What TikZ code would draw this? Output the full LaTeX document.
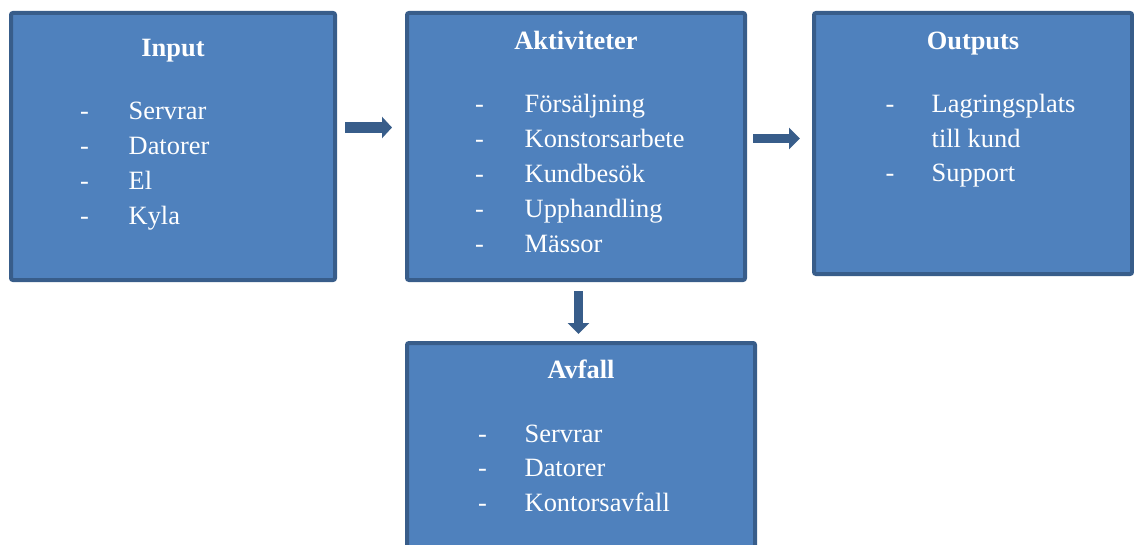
\documentclass[tikz,border=0pt]{standalone}
\usepackage{fontspec}
\setmainfont{Liberation Serif}
\usetikzlibrary{arrows.meta}
\definecolor{boxfill}{HTML}{4F81BD}
\definecolor{boxline}{HTML}{385D8A}
\tikzset{
  box/.style={draw=boxline, fill=boxfill, line width=4pt, rounded corners=2pt, inner sep=0pt},
  ttl/.style={text=white, font=\fontsize{26.4}{32}\selectfont\bfseries, inner sep=0pt, anchor=base},
  itm/.style={text=white, font=\fontsize{26.4}{32}\selectfont, inner sep=0pt, anchor=base west},
  blockarrow/.style={draw=boxline, line width=#1},
}
\begin{document}
\begin{tikzpicture}[x=1pt,y=-1pt]
\useasboundingbox (0,0) rectangle (1134,545);
\clip (0,0) rectangle (1134,545);
% boxes
\node[box, minimum width=324pt, minimum height=267pt] (in) at (173,146.5) {};
\node[box, minimum width=338pt, minimum height=267pt] (akt) at (576,146.5) {};
\node[box, minimum width=318pt, minimum height=261pt] (out) at (973,143.5) {};
\node[box, minimum width=348pt, minimum height=215pt] (avf) at (581,450.5) {};
% titles
\node[ttl] (tin) at (173,57) {Input};
\node[ttl] (takt) at (576,50) {Aktiviteter};
\node[ttl] (tout) at (973,50) {Outputs};
\node[ttl] (tavf) at (581,378) {Avfall};
% Input items
\foreach \t [count=\i] in {Servrar,Datorer,El,Kyla}{
  \node[itm] (ind\i) at (80,{120+34.7*(\i-1)}) {-};
  \node[itm] (in\i) at (128.5,{120+34.7*(\i-1)}) {\t};
}
% Aktiviteter items
\foreach \t [count=\i] in {Försäljning,Konstorsarbete,Kundbesök,Upphandling,Mässor}{
  \node[itm] (aktd\i) at (475,{113+34.8*(\i-1)}) {-};
  \node[itm] (akt\i) at (524.5,{113+34.8*(\i-1)}) {\t};
}
% Outputs items
\node[itm] (outd1) at (885.5,113) {-};
\node[itm] (out1) at (931.5,113) {Lagringsplats};
\node[itm] (out2) at (931.5,147.5) {till kund};
\node[itm] (outd3) at (885.5,182) {-};
\node[itm] (out3) at (931.5,182) {Support};
% Avfall items
\foreach \t [count=\i] in {Servrar,Datorer,Kontorsavfall}{
  \node[itm] (avfd\i) at (478,{442+34.5*(\i-1)}) {-};
  \node[itm] (avf\i) at (524.5,{442+34.5*(\i-1)}) {\t};
}
% arrows
\coordinate (a1) at (0,127.5);
\draw[blockarrow=11pt, -{Triangle[length=10pt,width=21pt]}]
  ([xshift=8pt]in.east |- a1) -- ([xshift=-13pt]akt.west |- a1);
\coordinate (a2) at (0,138.5);
\draw[blockarrow=9pt, -{Triangle[length=11pt,width=21pt]}]
  ([xshift=6pt]akt.east |- a2) -- ([xshift=-12pt]out.west |- a2);
\coordinate (a3) at (578.5,0);
\draw[blockarrow=9pt, -{Triangle[length=11pt,width=21pt]}]
  ([yshift=-9pt]akt.south -| a3) -- ([yshift=7pt]avf.north -| a3);
\end{tikzpicture}
\end{document}
